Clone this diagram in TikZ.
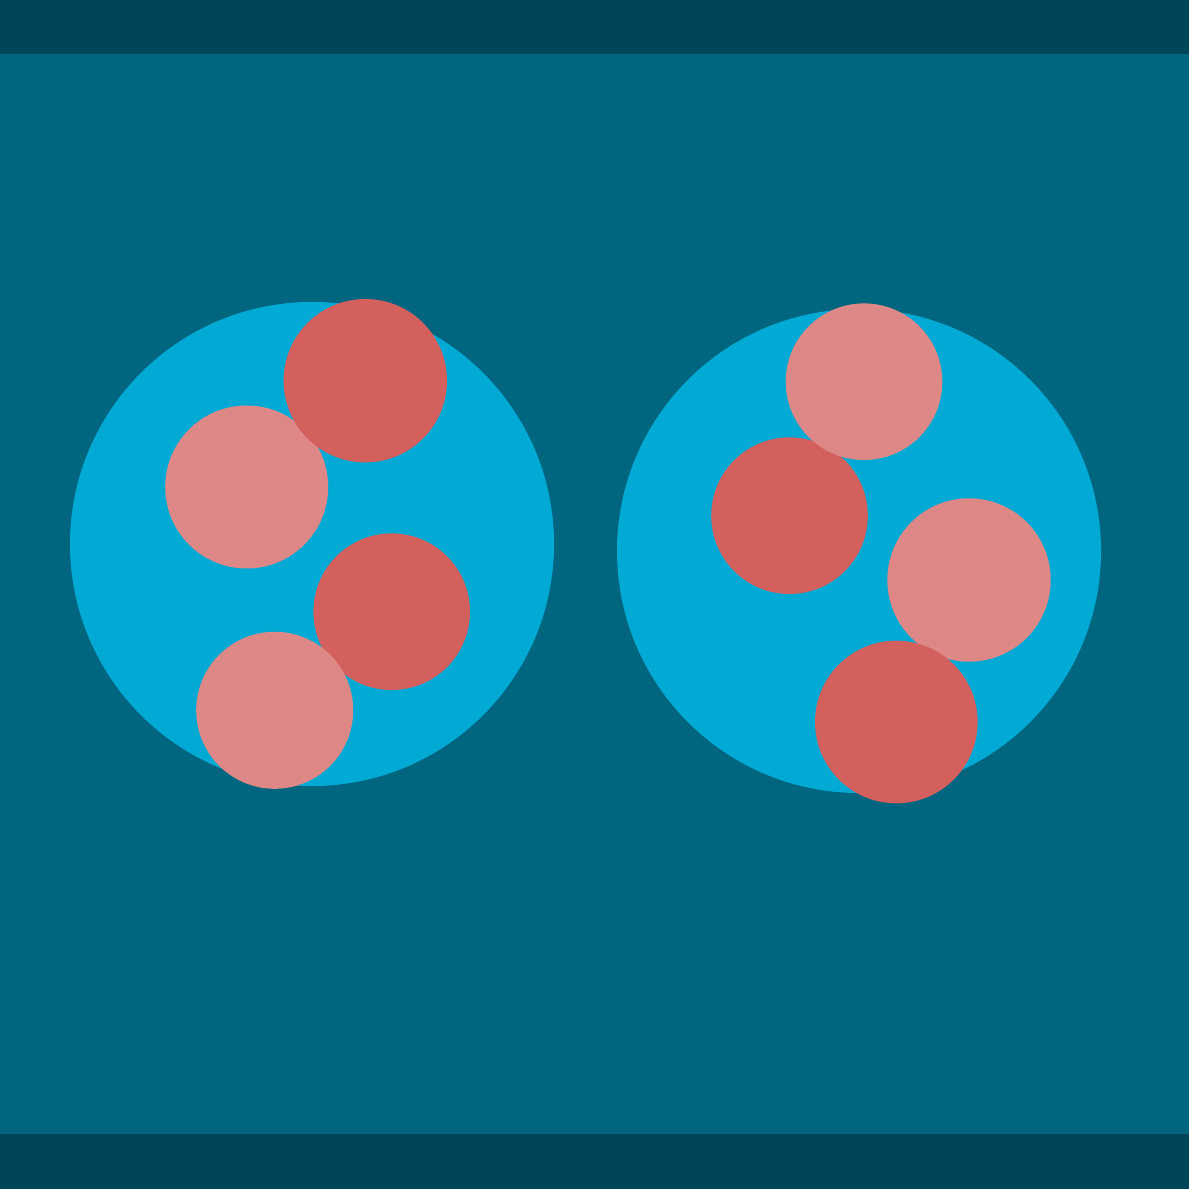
\documentclass[tikz,border=0pt]{standalone}
\definecolor{bgmid}{HTML}{00667F}
\definecolor{bgband}{HTML}{00465A}
\definecolor{bigc}{HTML}{00AAD5}
\definecolor{darkr}{HTML}{D4605E}
\definecolor{lightr}{HTML}{DD8886}
\begin{document}
\begin{tikzpicture}[x=0.01cm,y=-0.01cm]
\useasboundingbox (0,0) rectangle (1189,1189);
\fill[bgmid] (0,0) rectangle (1189,1189);
\fill[bgband] (0,0) rectangle (1189,54);
\fill[bgband] (0,1134) rectangle (1189,1189);
% left group
\fill[bigc] (312,544) circle[radius=242];
\fill[lightr] (246.7,487) circle[radius=81.5];
\fill[darkr] (365.3,380.7) circle[radius=81.7];
\fill[darkr] (391.7,611.7) circle[radius=78.3];
\fill[lightr] (274.7,710.3) circle[radius=78.5];
% right group
\fill[bigc] (859,551) circle[radius=242];
\fill[darkr] (789.5,515.7) circle[radius=78.3];
\fill[lightr] (864,381.7) circle[radius=78.3];
\fill[lightr] (969,580) circle[radius=81.7];
\fill[darkr] (896.3,722) circle[radius=81.3];
\end{tikzpicture}
\end{document}
